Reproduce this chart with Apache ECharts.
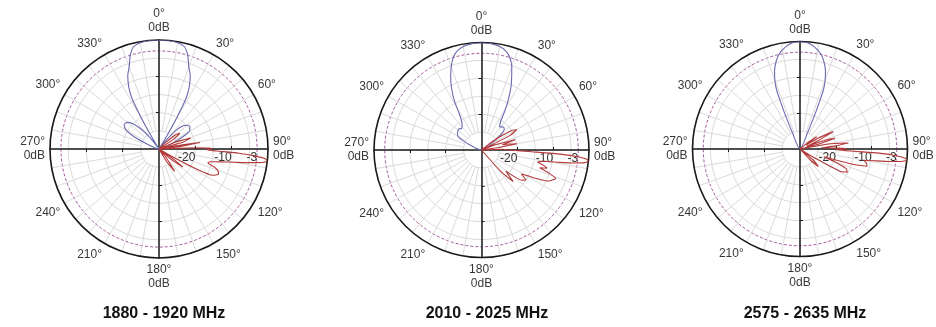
<!DOCTYPE html>
<html>
<head>
<meta charset="utf-8">
<script src="https://cdn.jsdelivr.net/npm/echarts@6/dist/echarts.min.js"></script>
<style>
  html, body { margin: 0; padding: 0; background: #ffffff; }
  #chart { width: 936px; height: 327px; }
</style>
</head>
<body>
<div id="chart"></div>
<script>
// Radial scale of every pattern plot (dB, centre to rim)
const DB_MIN = -30;
const DB_MAX = 0;
const RING_STEP = 5;          // grey level circles
const REF_LEVEL = [-3];       // dashed half-power circle
const ARM_TICKS = [-20, -10]; // tick marks on the black cross
const RADIAL_LABELS = [-20, -10, -3];
const ANGLE_STEP = 30;
const SPOKE_STEP = 10;

const bandTitles = ['1880 - 1920 MHz', '2010 - 2025 MHz', '2575 - 2635 MHz'];

// Elevation cuts: [angle°, dB]
const elev1 = [
  [0, 0], [5, 0], [10, -0.3], [14, -1], [17, -3], [20, -6], [23, -8], [26, -11], [28, -14],
  [29.5, -20], [31, -26], [32, -30], [38, -28], [42, -23.5], [46, -20.8], [50, -19.8], [54, -19.5],
  [58, -20], [62, -21.8], [66, -25.5], [69, -30], [120, -30], [200, -30], [288, -30],
  [292, -27], [296, -22.5], [300, -19.5], [305, -18.3], [310, -18.6], [314, -20], [318, -22.5],
  [322, -26], [326, -30], [328, -30], [329, -26], [330.5, -20], [332, -14], [334, -11], [337, -8],
  [340, -6], [343, -3], [346, -1], [350, -0.3], [355, 0], [360, 0]
];
const elev2 = [
  [0, 0], [5, -0.2], [10, -0.7], [14, -1.6], [17, -3], [20, -5.3], [22, -7.5], [25, -10.5],
  [28, -14], [31, -17.5], [34, -20.5], [38, -21.8], [42, -21.3], [46, -21.2], [50, -22],
  [54, -25], [58, -30], [120, -30], [200, -30], [290, -30], [294, -26.5], [298, -23.5],
  [303, -22], [308, -21.6], [313, -21.4], [318, -21.8], [322, -21.2], [326, -20], [329, -17.5],
  [331, -14.5], [334, -11], [337, -8], [340, -5.3], [343, -3], [346, -1.6], [350, -0.7],
  [355, -0.2], [360, 0]
];
const elev3 = [
  [0, 0], [4, -0.3], [8, -1.2], [12, -2.7], [15, -4.5], [18, -7], [20, -9.5], [21.5, -12],
  [22.5, -16], [23.5, -20], [25, -25], [27, -30], [120, -30], [200, -30], [333, -30],
  [335, -25], [336.5, -20], [337.5, -16], [338.5, -12], [340, -9.5], [342, -7], [345, -4.5],
  [348, -2.7], [352, -1.2], [356, -0.3], [360, 0]
];

// Azimuth cuts: [angle°, dB]
const azim1 = [
  [40, -30], [45, -28], [49, -24], [53, -22.8], [56, -25], [59, -30], [63, -30], [67, -25],
  [71, -20.8], [74, -23], [77, -30], [79, -26], [81, -18.6], [83, -24], [86, -30], [88, -20],
  [89, -16], [90, -15.5], [91, -17], [92, -14], [93, -8], [94, -4], [95, -1], [96, 0],
  [97, -0.5], [98, -3], [99, -6], [100, -9], [102, -13], [104, -15.5], [106, -16], [108, -14],
  [110, -12.8], [113, -12.2], [116, -13.5], [118, -18], [120, -26], [122, -30], [124, -26],
  [127, -21.8], [130, -25], [133, -30], [140, -27], [145, -22.5], [149, -26], [153, -30], [160, -30]
];
const azim2 = [
  [45, -30], [52, -26], [57, -20], [60, -18.7], [63, -21], [66, -30], [69, -26], [73, -20.2],
  [76, -24], [78, -22], [80, -20], [82, -25], [85, -30], [88, -24], [90, -22], [92, -16],
  [93, -8], [94, -3], [95, -0.5], [96, 0], [97, -1], [98, -4], [99, -8], [100, -12], [102, -14],
  [104, -12], [105.5, -11], [107, -13], [109, -10], [111, -7.8], [113, -8.5], [115, -9.5],
  [117, -12], [119, -15], [121, -17], [124, -15], [127, -16], [131, -21], [135, -17.5],
  [138, -22], [142, -30], [150, -30]
];
const azim3 = [
  [45, -30], [50, -27], [53.6, -24.2], [56, -28], [59, -24], [62.5, -19.5], [65, -24], [68, -28],
  [71, -22], [73, -19.8], [75, -24], [78, -30], [80, -22], [83, -16.4], [85, -20], [87, -24],
  [89, -18], [90, -17], [91, -20], [93, -8], [94, -3], [95, -0.5], [96, 0], [97, -1.5], [98, -5],
  [99, -9], [100, -12], [102, -11], [104.5, -10.7], [106, -14], [108, -23], [110, -20],
  [113, -16], [116, -15.3], [119, -17], [122, -26], [126, -30], [130, -25], [134, -22.9],
  [137, -26], [140, -30]
];

const elevCuts = [elev1, elev2, elev3];
const azimCuts = [azim1, azim2, azim3];

// Placement of the three plots (centre, rim radius, caption position)
const layout = [
  { cx: 159, cy: 149, r: 109, tx: 164 },
  { cx: 481.5, cy: 150, r: 107.5, tx: 487 },
  { cx: 800, cy: 149, r: 107.5, tx: 805 }
];

const FONT = 'Liberation Sans, Arial, Helvetica, sans-serif';
const GRID = '#dadada';
const INK = '#1a1a1a';
const ELEV_COLOR = '#6b6bb0';
const AZIM_COLOR = '#b43a3a';
const REF_COLOR = '#a4549c';

const polar = [], angleAxis = [], radiusAxis = [], series = [], graphic = [];

const hidden = { show: false };
function baseAngle(extra) {
  return Object.assign({
    type: 'value', min: 0, max: 360, startAngle: 90, clockwise: true,
    axisLine: hidden, axisTick: hidden, axisLabel: hidden, splitLine: hidden
  }, extra);
}
function baseRadius(extra) {
  return Object.assign({
    type: 'value', min: DB_MIN, max: DB_MAX,
    axisLine: hidden, axisTick: hidden, axisLabel: hidden, splitLine: hidden
  }, extra);
}
function addPolar(center, radius, ang, rad) {
  const i = polar.length;
  polar.push({ center: center, radius: radius });
  angleAxis.push(Object.assign(ang, { polarIndex: i }));
  radiusAxis.push(Object.assign(rad, { polarIndex: i }));
  return i;
}

layout.forEach((p, k) => {
  const center = [p.cx, p.cy];

  // 10° spokes, starting from the innermost level circle
  addPolar(center, [p.r * RING_STEP / (DB_MAX - DB_MIN), p.r],
    baseAngle({ interval: SPOKE_STEP, splitLine: { show: true, lineStyle: { color: GRID, width: 1 } } }),
    baseRadius({ show: false }));

  // level circles + rim + angle labels
  const main = addPolar(center, p.r,
    baseAngle({
      interval: ANGLE_STEP,
      axisLine: { show: true, lineStyle: { color: INK, width: 1.6 } },
      axisLabel: {
        show: true, margin: 5, color: '#383838', fontSize: 12, fontFamily: FONT, lineHeight: 14,
        formatter: v => v % 90 === 0 ? v + '°\n0dB' : v + '°'
      }
    }),
    baseRadius({ interval: RING_STEP, splitLine: { show: true, lineStyle: { color: GRID, width: 1 } } }));

  // dashed half-power circle
  addPolar(center, p.r, baseAngle({ show: false }),
    baseRadius({
      axisTick: { show: false, customValues: REF_LEVEL },
      splitLine: { show: true, lineStyle: { color: REF_COLOR, width: 1, type: [3, 2] } }
    }));

  // black cross: one radius axis per direction
  [0, 90, 180, 270].forEach(sa => {
    addPolar(center, p.r, baseAngle({ show: false, startAngle: sa }),
      baseRadius({
        axisLine: { show: true, lineStyle: { color: INK, width: 1.5 } },
        axisTick: { show: true, customValues: ARM_TICKS, length: 3, lineStyle: { color: INK, width: 1 } },
        axisLabel: sa === 0 ? {
          show: true, customValues: RADIAL_LABELS, color: '#333', fontSize: 12, fontFamily: FONT,
          formatter: v => String(v), margin: -3, align: 'right', verticalAlign: 'top'
        } : hidden
      }));
  });

  series.push({
    type: 'line', coordinateSystem: 'polar', polarIndex: main, z: 5,
    data: elevCuts[k].map(([a, d]) => [d, a]),
    symbol: 'none', smooth: 0.3, silent: true,
    lineStyle: { color: ELEV_COLOR, width: 1.1 }
  });
  series.push({
    type: 'line', coordinateSystem: 'polar', polarIndex: main, z: 6,
    data: azimCuts[k].map(([a, d]) => [d, a]),
    symbol: 'none', smooth: 0.15, silent: true,
    lineStyle: { color: AZIM_COLOR, width: 1.1 }
  });

  graphic.push({
    type: 'text', x: p.tx, y: 314,
    style: { text: bandTitles[k], font: 'bold 16px ' + FONT, fill: '#111', align: 'center', verticalAlign: 'middle' }
  });
});

const chart = echarts.init(document.getElementById('chart'), null, { renderer: 'canvas' });
chart.setOption({
  animation: false,
  backgroundColor: '#ffffff',
  polar, angleAxis, radiusAxis, series, graphic
});
</script>
</body>
</html>
